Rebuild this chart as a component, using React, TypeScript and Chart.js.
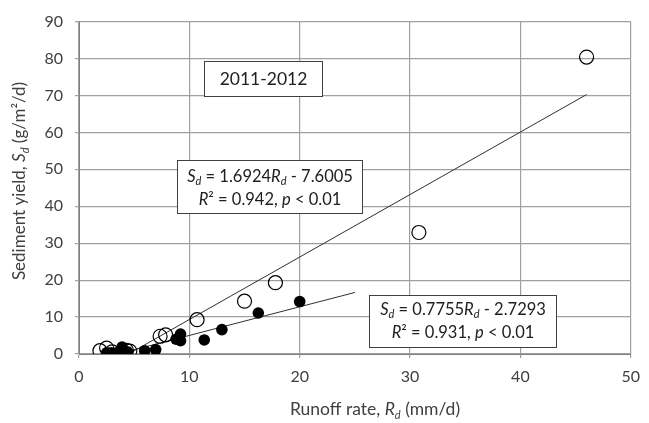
import React, { useEffect, useRef } from 'react';
import { Chart, registerables } from 'chart.js';
Chart.register(...registerables);

// Open circles (2011-2012 events, upper regression)
const openX = [1.9, 2.5, 3.0, 4.3, 4.6, 7.35, 7.85, 10.7, 15.0, 17.8, 30.8, 46.0];
const openY = [0.9, 1.6, 0.6, 1.0, 0.8, 4.8, 5.2, 9.3, 14.3, 19.3, 32.9, 80.4];

// Filled circles (lower regression)
const filledX = [2.5, 2.9, 3.4, 3.7, 3.9, 4.0, 4.4, 5.95, 6.95, 8.8, 9.2, 9.2, 11.35, 12.95, 16.25, 20.0];
const filledY = [0.3, 0.3, 0.3, 0.2, 1.9, 0.8, 0.6, 0.9, 1.2, 4.0, 5.4, 3.6, 3.8, 6.6, 11.1, 14.2];

// Regression lines
const fitSlopes = [1.6924, 0.7755];
const fitIntercepts = [-7.6005, -2.7293];
const fitXStart = [4.49, 3.52];
const fitXEnd = [46.0, 25.0];

// Axes
const xMin = 0, xMax = 50, xStep = 10;
const yMin = 0, yMax = 90, yStep = 10;

const FONT = 'Lato, "Open Sans", sans-serif';
const TEXT = '#404040';

type Seg = { t: string; i?: boolean; sub?: boolean };

function segFont(s: Seg, size: number) {
  const sz = s.sub ? Math.round(size * 0.65) : size;
  return `${s.i ? 'italic ' : ''}${sz}px ${FONT}`;
}

function drawRich(ctx: CanvasRenderingContext2D, segs: Seg[], cx: number, cy: number, size: number) {
  let w = 0;
  for (const s of segs) {
    ctx.font = segFont(s, size);
    w += ctx.measureText(s.t).width;
  }
  let x = cx - w / 2;
  ctx.textBaseline = 'alphabetic';
  ctx.textAlign = 'left';
  const base = cy + size * 0.35;
  for (const s of segs) {
    ctx.font = segFont(s, size);
    ctx.fillText(s.t, x, s.sub ? base + size * 0.22 : base);
    x += ctx.measureText(s.t).width;
  }
}

const eq1: Seg[][] = [
  [{ t: 'S', i: true }, { t: 'd', i: true, sub: true }, { t: ' = 1.6924' }, { t: 'R', i: true }, { t: 'd', i: true, sub: true }, { t: ' - 7.6005' }],
  [{ t: 'R', i: true }, { t: '² = 0.942, ' }, { t: 'p', i: true }, { t: ' < 0.01' }],
];
const eq2: Seg[][] = [
  [{ t: 'S', i: true }, { t: 'd', i: true, sub: true }, { t: ' = 0.7755' }, { t: 'R', i: true }, { t: 'd', i: true, sub: true }, { t: ' - 2.7293' }],
  [{ t: 'R', i: true }, { t: '² = 0.931, ' }, { t: 'p', i: true }, { t: ' < 0.01' }],
];
const xTitle: Seg[] = [{ t: 'Runoff rate, ' }, { t: 'R', i: true }, { t: 'd', i: true, sub: true }, { t: ' (mm/d)' }];
const yTitle: Seg[] = [{ t: 'Sediment yield, ' }, { t: 'S', i: true }, { t: 'd', i: true, sub: true }, { t: ' (g/m²/d)' }];

const annotPlugin = {
  id: 'annot',
  afterDatasetsDraw(chart: any) {
    const ctx: CanvasRenderingContext2D = chart.ctx;
    ctx.save();
    const box = (l: number, t: number, r: number, b: number) => {
      ctx.fillStyle = '#ffffff';
      ctx.fillRect(l, t, r - l, b - t);
      ctx.strokeStyle = '#404040';
      ctx.lineWidth = 1;
      ctx.strokeRect(l + 0.5, t + 0.5, r - l - 1, b - t - 1);
    };
    box(204, 61, 323, 97);
    ctx.fillStyle = '#202020';
    drawRich(ctx, [{ t: '2011-2012' }], 263.5, 79, 17.5);

    box(177, 160, 363, 214);
    ctx.fillStyle = '#202020';
    drawRich(ctx, eq1[0], 270, 176, 16.5);
    drawRich(ctx, eq1[1], 270, 199, 16.5);

    box(369, 295, 557, 348);
    ctx.fillStyle = '#202020';
    drawRich(ctx, eq2[0], 463, 309, 16.5);
    drawRich(ctx, eq2[1], 463, 332, 16.5);
    ctx.restore();
  },
  afterDraw(chart: any) {
    const ctx: CanvasRenderingContext2D = chart.ctx;
    ctx.save();
    ctx.fillStyle = TEXT;
    drawRich(ctx, xTitle, 375, 409, 17.5);
    ctx.translate(19, 181);
    ctx.rotate(-Math.PI / 2);
    drawRich(ctx, yTitle, 0, 0, 17);
    ctx.restore();
  },
};

export default function App() {
  const ref = useRef<HTMLCanvasElement>(null);
  useEffect(() => {
    if (!ref.current) return;
    const trend = (k: number) => [
      { x: fitXStart[k], y: fitSlopes[k] * fitXStart[k] + fitIntercepts[k] },
      { x: fitXEnd[k], y: fitSlopes[k] * fitXEnd[k] + fitIntercepts[k] },
    ];
    const chart = new Chart(ref.current, {
      type: 'scatter',
      data: {
        datasets: [
          {
            data: trend(0), showLine: true, borderColor: '#303030', borderWidth: 1,
            pointRadius: 0, order: 3,
          } as any,
          {
            data: trend(1), showLine: true, borderColor: '#303030', borderWidth: 1,
            pointRadius: 0, order: 3,
          } as any,
          {
            data: openX.map((x, i) => ({ x, y: openY[i] })),
            pointRadius: 7, pointBorderWidth: 1.2, pointBorderColor: '#000',
            pointBackgroundColor: 'rgba(255,255,255,0)', order: 2,
          },
          {
            data: filledX.map((x, i) => ({ x, y: filledY[i] })),
            pointRadius: 5.8, pointBorderWidth: 0, pointBackgroundColor: '#000', order: 1,
          },
        ],
      },
      options: {
        responsive: true,
        maintainAspectRatio: false,
        animation: false,
        layout: { padding: { left: 0, top: 17, right: 10, bottom: 0 } },
        plugins: { legend: { display: false }, tooltip: { enabled: false } },
        scales: {
          x: {
            type: 'linear', min: xMin, max: xMax,
            ticks: { stepSize: xStep, color: TEXT, font: { size: 16, family: FONT }, padding: 9 },
            grid: { color: '#a0a0a0', lineWidth: 1.2, tickLength: 4 },
            border: { color: '#808080' },
            afterFit: (s: any) => { s.height = 69; },
          },
          y: {
            type: 'linear', min: yMin, max: yMax,
            ticks: { stepSize: yStep, color: TEXT, font: { size: 16, family: FONT }, padding: 12 },
            grid: { color: '#a0a0a0', lineWidth: 1.2, tickLength: 4 },
            border: { color: '#808080' },
            afterFit: (s: any) => { s.width = 79; },
          },
        },
      },
      plugins: [annotPlugin],
    });
    return () => chart.destroy();
  }, []);
  return (
    <div style={{ position: 'absolute', left: 0, top: 0, width: 649, height: 423, background: '#fff' }}>
      <canvas ref={ref} />
    </div>
  );
}
